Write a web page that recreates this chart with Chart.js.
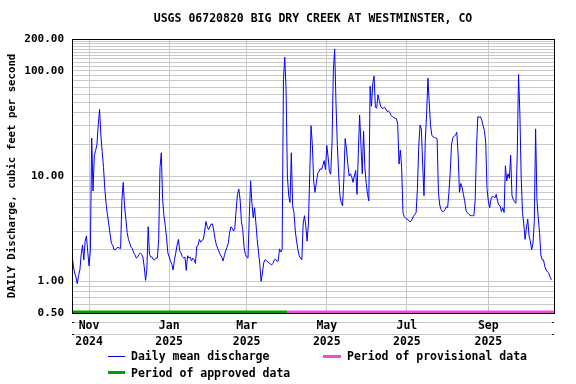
<!DOCTYPE html>
<html>
<head>
<meta charset="utf-8">
<script src="https://cdn.jsdelivr.net/npm/chart.js@4.4.1/dist/chart.umd.min.js"></script>
<style>
  html, body { margin: 0; padding: 0; background: #fff; }
  #wrap { position: relative; width: 576px; height: 384px; }
  .legend-text {
    position: absolute;
    font: bold 11.5px 'DejaVu Sans Mono', monospace;
    line-height: 14px;
    color: #000;
    white-space: nowrap;
  }
  .swatch { position: absolute; }
</style>
</head>
<body>
<div id="wrap">
  <canvas id="chart" width="576" height="384"></canvas>

  <div class="swatch" style="left:108px; top:356px; width:17px; height:1px; background:#0000ff;"></div>
  <div class="legend-text" style="left:131px; top:349px;">Daily mean discharge</div>
  <div class="swatch" style="left:323px; top:355px; width:18px; height:3px; background:#f04cdc;"></div>
  <div class="legend-text" style="left:347px; top:349px;">Period of provisional data</div>
  <div class="swatch" style="left:108px; top:371px; width:17px; height:3px; background:#00a000;"></div>
  <div class="legend-text" style="left:131px; top:366px;">Period of approved data</div>
</div>

<script>
// Daily mean discharge (cfs), one value per day starting 2024-10-19
const startDate = '2024-10-19';
const discharge = [
  1.78, 1.42, 1.2, 1.1, 0.95, 1.14, 1.28, 1.8, 2.2, 1.6,        // Oct 19 - 28
  2.4, 2.7, 1.9, 1.4, 2.0, 22.9, 7.2, 15.6, 17.5, 20,           // Oct 29 - Nov 7
  31, 43, 24, 17, 12, 7.5, 5.4, 4.3, 3.5, 2.8,                  // Nov 8 - 17
  2.3, 2.2, 2.0, 2.0, 2.07, 2.1, 2.07, 2.05, 6.0, 8.7,          // Nov 18 - 27
  5.2, 3.9, 2.9, 2.5, 2.3, 2.1, 2.05, 1.86, 1.78, 1.66,         // Nov 28 - Dec 7
  1.7, 1.8, 1.86, 1.8, 1.7, 1.37, 1.02, 1.3, 3.3, 1.8,          // Dec 8 - 17
  1.7, 1.7, 1.6, 1.6, 1.66, 1.66, 2.5, 12, 16.6, 6.0,           // Dec 18 - 27
  4.2, 3.4, 2.6, 1.86, 1.7, 1.55, 1.45, 1.28, 1.6, 1.86,        // Dec 28 - Jan 6
  2.2, 2.5, 1.95, 1.86, 1.72, 1.66, 1.7, 1.27, 1.75, 1.66,      // Jan 7 - 16
  1.7, 1.56, 1.66, 1.6, 1.48, 2.15, 2.2, 2.5, 2.35, 2.45,       // Jan 17 - 26
  2.5, 3.0, 3.7, 3.3, 3.1, 3.3, 3.5, 3.5, 3.0, 2.5,             // Jan 27 - Feb 5
  2.2, 2.05, 1.9, 1.78, 1.7, 1.56, 1.75, 1.95, 2.1, 2.3,        // Feb 6 - 15
  2.9, 3.3, 3.2, 3.0, 3.2, 4.8, 6.7, 7.5, 6.0, 3.7,             // Feb 16 - 25
  3.1, 2.1, 1.8, 1.7, 1.66, 4.15, 9.0, 5.5, 4.0, 5.0,           // Feb 26 - Mar 7
  3.6, 2.5, 1.9, 1.45, 1.0, 1.2, 1.5, 1.6, 1.58, 1.52,          // Mar 8 - 17
  1.5, 1.46, 1.43, 1.48, 1.6, 1.62, 1.55, 1.56, 2.03, 1.9,      // Mar 18 - 27
  2.0, 82, 134, 66, 10, 6.5, 5.6, 16.6, 5.2, 4.5,               // Mar 28 - Apr 6
  3.0, 2.4, 2.0, 1.75, 1.66, 1.6, 3.5, 4.2, 3.4, 2.4,           // Apr 7 - 16
  3.5, 10, 30, 20, 9.0, 7.0, 8.5, 10.5, 11, 11.7,               // Apr 17 - 26
  11.5, 12.6, 14, 11.5, 19.5, 15.2, 11, 10.4, 21, 100,          // Apr 27 - May 6
  160, 50, 20, 10.5, 6.5, 5.6, 5.2, 9.4, 22.7, 18,              // May 7 - 16
  13, 10, 10.5, 9.8, 8.7, 10, 11.3, 6.7, 16.2, 38,              // May 17 - 26
  20, 10.5, 26.6, 12, 8.5, 6.7, 5.8, 71, 46, 75,                // May 27 - Jun 5
  89, 45, 44, 59, 52, 46, 44, 44, 45, 43,                       // Jun 6 - 15
  41, 41.5, 40, 37.5, 36.6, 36, 35.3, 35, 31, 13,               // Jun 16 - 25
  17.6, 12, 4.5, 4.1, 4.0, 3.9, 3.85, 3.7, 3.7, 3.9,            // Jun 26 - Jul 5
  4.15, 4.3, 4.5, 7.5, 19, 30.5, 28, 13, 6.5, 22,               // Jul 6 - 15
  38, 85, 50, 30, 24.4, 23.5, 23.2, 23, 22.5, 7,                // Jul 16 - 25
  5.3, 4.8, 4.6, 4.6, 4.8, 5.1, 5.0, 7.0, 11, 20,               // Jul 26 - Aug 4
  23, 24, 24.4, 26, 16, 7, 8.5, 7.8, 6.7, 5.8,                  // Aug 5 - 14
  4.7, 4.5, 4.35, 4.25, 4.2, 4.2, 4.2, 6.0, 19, 36.6,           // Aug 15 - 24
  36, 36.6, 34, 30, 27, 21, 7.5, 5.8, 5.0, 6.0,                 // Aug 25 - Sep 3
  6.4, 6.4, 6.2, 6.7, 5.8, 5.3, 5.2, 4.6, 5.0, 4.5,             // Sep 4 - 13
  12.5, 9, 10.5, 9.5, 15.7, 6.5, 6.0, 5.7, 5.5, 15.7,           // Sep 14 - 23
  92, 40, 10, 4.5, 3.5, 2.5, 3.2, 3.9, 2.7, 2.4,                // Sep 24 - Oct 3
  2.0, 2.3, 3.7, 28, 6.0, 4.0, 2.9, 1.78, 1.6, 1.6,             // Oct 4 - 13
  1.38, 1.28, 1.23, 1.2, 1.1, 1.03                              // Oct 14 - 19
];

// x axis: day offsets from startDate for the month ticks
const tickDays = [13, 74, 133, 194, 255, 317];
const tickMonths = ['Nov', 'Jan', 'Mar', 'May', 'Jul', 'Sep'];
const tickYears = ['2024', '2025', '2025', '2025', '2025', '2025'];
const xMaxDay = 367;

// y axis: grid lines and labelled values
const yGridValues = [
  0.5, 0.6, 0.7, 0.8, 0.9,
  1, 2, 3, 4, 5, 6, 7, 8, 9,
  10, 20, 30, 40, 50, 60, 70, 80, 90,
  100, 110, 120, 130, 140, 150, 160, 170, 180, 190, 200
];
const yLabelValues = [0.5, 1, 10, 100, 200];

// data-quality periods (day offsets)
const approvedDays = [0, 164];
const provisionalDays = [164, 367];

const FONT = "'DejaVu Sans Mono', monospace";
const GRID = '#c8c8c8';
const periodLevel = 0.51; // just above the bottom of the plot

const plotFrame = {
    id: 'plotFrame',
    beforeDraw(chart) {
        // faint guide rules under the x axis, behind the tick labels
        const { ctx, chartArea: a } = chart;
        ctx.save();
        [9, 21].forEach(off => {
            const y = Math.round(a.bottom + off) + 0.5;
            ctx.strokeStyle = GRID;
            ctx.lineWidth = 1;
            ctx.beginPath();
            ctx.moveTo(a.left, y);
            ctx.lineTo(a.right, y);
            ctx.stroke();
            ctx.fillStyle = '#000';
            ctx.fillRect(Math.round(a.left), y - 0.5, 2, 1);
            ctx.fillRect(Math.round(a.right) - 2, y - 0.5, 2, 1);
        });
        ctx.restore();
    },
    afterDraw(chart) {
        const { ctx, chartArea: a } = chart;
        ctx.save();
        ctx.strokeStyle = '#000';
        ctx.lineWidth = 1;
        ctx.strokeRect(Math.round(a.left) + 0.5, Math.round(a.top) + 0.5,
            Math.round(a.right - a.left), Math.round(a.bottom - a.top));
        ctx.restore();
    }
};

new Chart(document.getElementById('chart'), {
    type: 'line',
    data: {
        datasets: [
            {
                label: 'Daily mean discharge',
                data: discharge.map((v, i) => ({ x: i, y: v })),
                borderColor: '#0000ff',
                borderWidth: 1,
                pointRadius: 0,
                tension: 0
            },
            {
                label: 'Period of approved data',
                data: approvedDays.map(d => ({ x: d, y: periodLevel })),
                borderColor: '#00a000',
                borderWidth: 3,
                pointRadius: 0
            },
            {
                label: 'Period of provisional data',
                data: provisionalDays.map(d => ({ x: d, y: periodLevel })),
                borderColor: '#f04cdc',
                borderWidth: 3,
                pointRadius: 0
            }
        ]
    },
    options: {
        responsive: false,
        devicePixelRatio: 1,
        animation: false,
        layout: { padding: { left: 0, right: 22, top: 0, bottom: 31 } },
        plugins: {
            legend: { display: false },
            tooltip: { enabled: false },
            title: {
                display: true,
                fullSize: false, // center the title over the plot area
                text: 'USGS 06720820 BIG DRY CREEK AT WESTMINSTER, CO',
                color: '#000',
                font: { family: FONT, size: 11.5, weight: 'bold' },
                padding: { top: 12, bottom: 13.2 }
            }
        },
        scales: {
            x: {
                type: 'linear',
                min: 0,
                max: xMaxDay,
                afterBuildTicks: (scale) => {
                    scale.ticks = tickDays.map(v => ({ value: v }));
                },
                afterFit: (scale) => { scale.height = 40; },
                grid: { color: GRID, drawTicks: false },
                border: { display: false },
                ticks: {
                    autoSkip: false,
                    maxRotation: 0,
                    padding: 5,
                    color: '#000',
                    font: { family: FONT, size: 11.5, weight: 'bold', lineHeight: 1.4 },
                    callback: (value) => {
                        const i = tickDays.indexOf(value);
                        return i < 0 ? '' : [tickMonths[i], tickYears[i]];
                    }
                }
            },
            y: {
                type: 'logarithmic',
                min: 0.5,
                max: 200,
                afterBuildTicks: (scale) => {
                    scale.ticks = yGridValues.map(v => ({ value: v }));
                },
                afterFit: (scale) => { scale.width = 72; },
                grid: { color: GRID, drawTicks: false },
                border: { display: false },
                ticks: {
                    autoSkip: false,
                    padding: 8,
                    color: '#000',
                    font: { family: FONT, size: 11, weight: 'bold' },
                    callback: (value) => yLabelValues.includes(value) ? value.toFixed(2) : ''
                },
                title: {
                    display: true,
                    text: 'DAILY Discharge, cubic feet per second',
                    color: '#000',
                    font: { family: FONT, size: 10.7, weight: 'bold' },
                    padding: { top: 6, bottom: 0 }
                }
            }
        }
    },
    plugins: [plotFrame]
});
</script>
</body>
</html>
